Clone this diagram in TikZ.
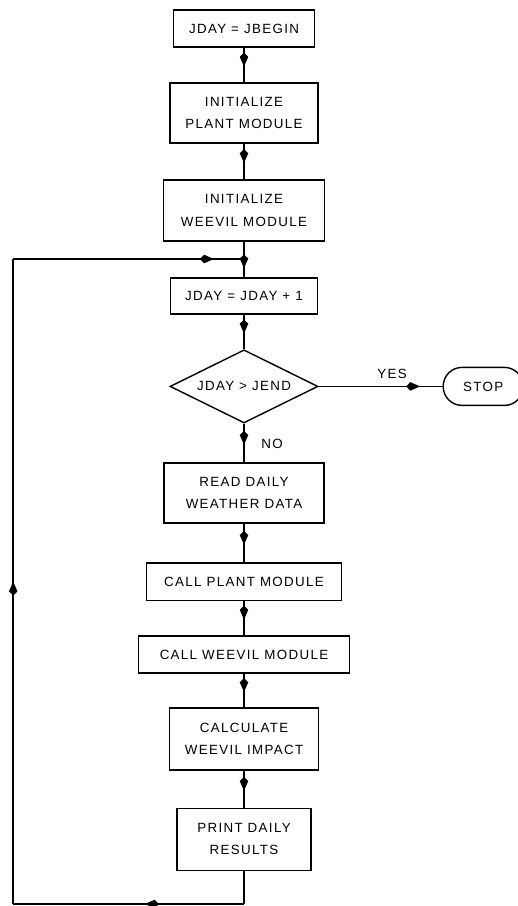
\documentclass[tikz,border=0pt]{standalone}
\usepackage{fontspec}
\setmainfont{Liberation Sans}[LetterSpace=10]
\usetikzlibrary{calc, positioning, arrows.meta, shapes.geometric, decorations.markings}

\begin{document}
\begin{tikzpicture}[
  box/.style={draw, line width=1pt, minimum height=0.93cm, inner sep=2pt,
    align=center, font=\fontsize{9.5}{16}\selectfont},
  decision/.style={draw, diamond, aspect=2, line width=1pt, minimum width=3.7cm,
    minimum height=1.83cm, inner sep=0pt, font=\fontsize{9.5}{16}\selectfont},
  terminal/.style={draw, line width=1pt, rounded corners=0.47cm, minimum width=2cm,
    minimum height=0.95cm, font=\fontsize{9.5}{16}\selectfont},
  label/.style={font=\fontsize{9.5}{16}\selectfont},
  flow/.style={line width=1pt, postaction={decorate}, decoration={markings,
    mark=at position #1 with {\arrow{Stealth[length=7pt, width=5.5pt, inset=-3pt]}}}},
  flow/.default=0.55,
]
  \useasboundingbox[fill=white] (0,0) rectangle (12.925,-22.65);

  \node[box, minimum width=3.53cm] (jbegin) at (6.1, -0.71) {JDAY = JBEGIN};
  \node[box, minimum width=3.7cm, minimum height=1.5cm] (initplant) at (6.1, -2.825) {INITIALIZE\\PLANT MODULE};
  \node[box, minimum width=4.03cm, minimum height=1.53cm] (initweevil) at (6.1, -5.26) {INITIALIZE\\WEEVIL MODULE};
  \node[box, minimum width=3.68cm, minimum height=0.9cm] (incr) at (6.1, -7.4) {JDAY = JDAY + 1};
  \node[decision] (test) at (6.1, -9.66) {JDAY > JEND};
  \node[terminal] (stop) at (12.08, -9.66) {STOP};
  \node[box, minimum width=4.0cm, minimum height=1.5cm] (weather) at (6.1, -12.325) {READ DAILY\\WEATHER DATA};
  \node[box, minimum width=4.88cm] (callplant) at (6.1, -14.54) {CALL PLANT MODULE};
  \node[box, minimum width=5.28cm] (callweevil) at (6.1, -16.36) {CALL WEEVIL MODULE};
  \node[box, minimum width=3.73cm, minimum height=1.55cm] (impact) at (6.1, -18.475) {CALCULATE\\WEEVIL IMPACT};
  \node[box, minimum width=3.35cm, minimum height=1.55cm] (print) at (6.1, -20.98) {PRINT DAILY\\RESULTS};

  \node[label] (yes) at (9.8, -9.35) {YES};
  \node[label] (no) at (6.8, -11.1) {NO};

  % feedback loop corners
  \coordinate (loopjoin) at (6.1, -6.475);
  \coordinate (looptop) at (0.33, -6.475);
  \coordinate (loopleft) at (0.33, -22.6);
  \coordinate (loopbot) at (6.1, -22.6);

  \draw[flow] (jbegin) -- (initplant);
  \draw[flow] (initplant) -- (initweevil);
  \draw[flow=0.75] (initweevil) -- (incr);
  \draw[flow] (incr) -- (test);
  \draw[flow=0.82] (test.east) -- (stop);
  \draw[flow] (test.south) -- (weather);
  \draw[flow] (weather) -- (callplant);
  \draw[flow] (callplant) -- (callweevil);
  \draw[flow] (callweevil) -- (impact);
  \draw[flow] (impact) -- (print);
  \draw[line width=1pt] (print) -- (loopbot);
  \draw[flow=0.43] (loopbot) -- (loopleft);
  \draw[flow=0.5] (loopleft) -- (looptop);
  \draw[flow=0.87] (looptop) -- (loopjoin);
\end{tikzpicture}
\end{document}
